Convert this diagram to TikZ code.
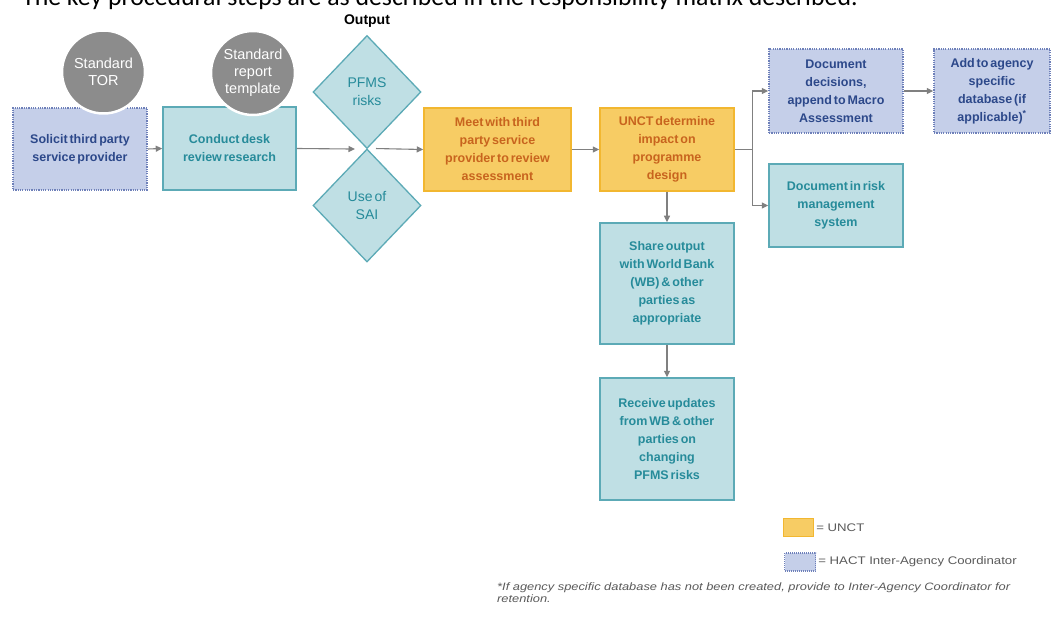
\documentclass[tikz,border=0pt]{standalone}
\usepackage{fontspec}
\setmainfont{Liberation Sans}
\newfontfamily\boxfont{Liberation Sans}[WordSpace=0.55]
\newfontfamily\widefont{Liberation Sans}[FakeStretch=1.2]
\newfontfamily\titlefont{Carlito}
\usetikzlibrary{shapes.geometric,arrows.meta}
\definecolor{tealfill}{RGB}{191,223,228}
\definecolor{tealdraw}{RGB}{92,170,182}
\definecolor{tealtext}{RGB}{38,139,154}
\definecolor{bluefill}{RGB}{197,207,233}
\definecolor{bluedraw}{RGB}{110,128,185}
\definecolor{bluetext}{RGB}{44,72,138}
\definecolor{yelfill}{RGB}{247,204,100}
\definecolor{yeldraw}{RGB}{242,183,48}
\definecolor{yeltext}{RGB}{200,100,30}
\definecolor{circfill}{RGB}{140,140,140}
\definecolor{arrowgray}{RGB}{128,128,128}
\definecolor{legtext}{RGB}{90,90,90}
\tikzset{
  basebox/.style={rectangle, align=center, inner sep=2pt, line width=1.5pt,
    font=\boxfont\bfseries\fontsize{12.5}{18}\selectfont},
  tealbox/.style={basebox, fill=tealfill, draw=tealdraw, text=tealtext},
  bluebox/.style={basebox, fill=bluefill, draw=bluedraw, text=bluetext,
    dash pattern=on 1.2pt off 1.1pt},
  yelbox/.style={basebox, fill=yelfill, draw=yeldraw, text=yeltext},
  circ/.style={circle, fill=circfill, draw=white, line width=2.5pt, inner sep=0pt,
    minimum size=83pt, text=white, align=center,
    font=\boxfont\fontsize{14.5}{17}\selectfont},
  diam/.style={diamond, fill=tealfill, draw=tealdraw, line width=1.3pt, inner sep=0pt,
    minimum width=108pt, minimum height=113pt, text=tealtext, align=center,
    font=\boxfont\fontsize{14}{18}\selectfont},
  arr/.style={draw=arrowgray, line width=1.1pt, -{Triangle[length=6.5pt,width=6pt]}},
}
\begin{document}
\begin{tikzpicture}[x=1pt,y=-1pt]
\useasboundingbox (0,0) rectangle (1057,617);
\fill[white] (0,0) rectangle (1057,617);

% title (cut off at the top)
\node[anchor=base west, inner sep=0pt, font=\titlefont\fontsize{25.8}{30}\selectfont] (title) at (22,5.5)
  {The key procedural steps are as described in the responsibility matrix described.};
\node[font=\bfseries\fontsize{14}{16}\selectfont] (outlbl) at (367,21) {Output};

% boxes
\node[bluebox, minimum width=134pt, minimum height=82pt] (solicit) at (80,149) {Solicit third party\\service provider};
\node[tealbox, minimum width=133pt, minimum height=83pt] (conduct) at (229.5,148.5) {Conduct desk\\review research};
\node[circ] (tor) at (103.5,72) {Standard\\TOR};
\node[circ, minimum size=84pt] (tmpl) at (253,73) {Standard\\report\\template};

\node[diam] (pfms) at (367,92) {PFMS\\risks};
\node[diam] (sai) at (367,205.5) {Use of\\SAI};

\node[yelbox, minimum width=147pt, minimum height=83pt] (meet) at (497.5,149.5) {Meet with third\\party service\\provider to review\\assessment};
\node[yelbox, minimum width=134pt, minimum height=83pt] (unct) at (667,149.5) {UNCT determine\\impact on\\programme\\design};

\node[bluebox, minimum width=134pt, minimum height=84pt] (docdec) at (836,91) {Document\\decisions,\\append to Macro\\Assessment};
\node[bluebox, minimum width=116pt, minimum height=84pt] (addto) at (992,91) {Add to agency\\specific\\database (if\\applicable)\textsuperscript{*}};
\node[tealbox, minimum width=134pt, minimum height=83pt] (risk) at (836,205.5) {Document in risk\\management\\system};

\node[tealbox, minimum width=134pt, minimum height=121pt] (share) at (667,283.5) {Share output\\with World Bank\\(WB) \& other\\parties as\\appropriate};
\node[tealbox, minimum width=134pt, minimum height=122pt] (receive) at (667,439) {Receive updates\\from WB \& other\\parties on\\changing\\PFMS risks};

% connectors
\draw[arr] (solicit.east) -- (conduct.west);
\draw[arr, shorten >=12pt] (conduct.east) -- (pfms.south);
\draw[arr, shorten <=9pt] (sai.north) -- (meet.west);
\draw[arr] (meet.east) -- (unct.west);
\draw[arr] (unct.east) -- ++(18,0) |- (docdec.west);
\draw[arr] (unct.east) -- ++(18,0) |- (risk.west);
\draw[arr] (docdec.east) -- (addto.west);
\draw[arr] (unct.south) -- (share.north);
\draw[arr] (share.south) -- (receive.north);

% legend
\node[rectangle, fill=yelfill, draw=yeldraw, line width=1.2pt, minimum width=30pt, minimum height=18pt, inner sep=0pt] (legu) at (798.5,527.5) {};
\node[anchor=west, inner sep=2pt, text=legtext, font=\widefont\fontsize{11}{13}\selectfont] (legutext) at (legu.east) {= UNCT};
\node[rectangle, fill=bluefill, draw=bluedraw, line width=1.2pt, dash pattern=on 1pt off 1pt, minimum width=31pt, minimum height=18pt, inner sep=0pt] (legh) at (800,562) {};
\node[anchor=west, inner sep=2pt, text=legtext, font=\widefont\fontsize{11}{13}\selectfont] (leghtext) at (legh.east) {= HACT Inter-Agency Coordinator};

% footnote
\node[anchor=north west, inner sep=0pt, align=left, text=legtext, font=\widefont\itshape\fontsize{10.7}{12}\selectfont] (foot) at (497,583)
  {*If agency specific database has not been created, provide to Inter-Agency Coordinator for\\retention.};
\end{tikzpicture}
\end{document}
